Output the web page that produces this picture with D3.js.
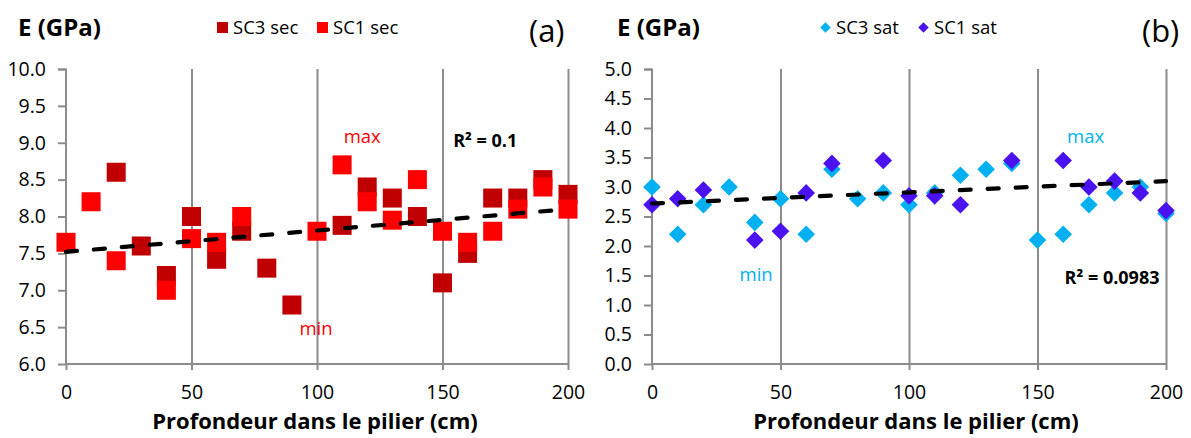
<!DOCTYPE html>
<html><head><meta charset="utf-8">
<script src="https://cdn.jsdelivr.net/npm/d3@7"></script>
<style>body{margin:0;background:#fff} svg{display:block;font-family:"Open Sans",sans-serif}</style>
</head><body><svg id="c" width="1191" height="438"></svg>
<script>
// ---- data ----
const xTicks = [0, 50, 100, 150, 200];
const yTicksA = [6.0, 6.5, 7.0, 7.5, 8.0, 8.5, 9.0, 9.5, 10.0];
const yTicksB = [0.0, 0.5, 1.0, 1.5, 2.0, 2.5, 3.0, 3.5, 4.0, 4.5, 5.0];

const sc3SecX = [20, 30, 40, 50, 60, 70, 80, 90, 110, 120, 130, 140, 150, 160, 170, 180, 190, 200];
const sc3SecE = [8.6, 7.6, 7.2, 8.0, 7.42, 7.8, 7.3, 6.8, 7.88, 8.4, 8.25, 8.0, 7.1, 7.5, 8.25, 8.25, 8.5, 8.3];
const sc1SecX = [0, 10, 20, 40, 50, 60, 70, 100, 110, 120, 130, 140, 150, 160, 170, 180, 190, 200];
const sc1SecE = [7.65, 8.2, 7.4, 7.0, 7.7, 7.65, 8.0, 7.8, 8.7, 8.2, 7.95, 8.5, 7.8, 7.65, 7.8, 8.1, 8.4, 8.1];

const sc3SatX = [0, 10, 20, 30, 40, 50, 60, 70, 80, 90, 100, 110, 120, 130, 140, 150, 160, 170, 180, 190, 200];
const sc3SatE = [3.0, 2.2, 2.7, 3.0, 2.4, 2.8, 2.2, 3.3, 2.8, 2.9, 2.7, 2.9, 3.2, 3.3, 3.4, 2.1, 2.2, 2.7, 2.9, 3.0, 2.55];
const sc1SatX = [0, 10, 20, 40, 50, 60, 70, 90, 100, 110, 120, 140, 160, 170, 180, 190, 200];
const sc1SatE = [2.7, 2.8, 2.95, 2.1, 2.25, 2.9, 3.4, 3.45, 2.85, 2.85, 2.7, 3.45, 3.45, 3.0, 3.1, 2.9, 2.6];

const trendX = [0, 200];
const trendA = [7.52, 8.10];
const trendB = [2.72, 3.10];

const notesA = [
  {t: "max", x: 118, y: 9.0, c: "#FF0000", b: false},
  {t: "min", x: 99.6, y: 6.39, c: "#FF0000", b: false},
  {t: "R² = 0.1", x: 167, y: 8.94, c: "#000", b: true}
];
const notesB = [
  {t: "min", x: 40.5, y: 1.41, c: "#00B0F0", b: false},
  {t: "max", x: 168.7, y: 3.75, c: "#00B0F0", b: false},
  {t: "R² = 0.0983", x: 179, y: 1.36, c: "#000", b: true}
];

// ---- drawing ----
const svg = d3.select("#c");
const AX = "#8c8c8c";
const COL = {sc3sec: "#C00000", sc1sec: "#FF0000", sc3sat: "#00B0F0", sc1sat: "#4A12EE"};

function panel(cfg) {
  const g = svg.append("g");
  const x = d3.scaleLinear().domain([0, 200]).range(cfg.xr);
  const y = d3.scaleLinear().domain(cfg.yd).range([364, 69]);

  // vertical grid lines
  g.append("g").attr("transform", "translate(0,364)")
    .call(d3.axisBottom(x).tickValues(xTicks.slice(1)).tickSize(-(364 - 69)).tickFormat(""))
    .call(a => a.select(".domain").remove())
    .call(a => a.selectAll("line").attr("stroke", AX).attr("stroke-width", 2));

  // y axis
  g.append("g").attr("transform", `translate(${cfg.xr[0]},0)`)
    .call(d3.axisLeft(y).tickValues(cfg.yTicks).tickSize(8).tickPadding(12).tickFormat(d3.format(".1f")))
    .call(a => a.select(".domain").attr("stroke", AX).attr("stroke-width", 2).attr("d", `M-8,69.5H0V364`))
    .call(a => a.selectAll("line").attr("stroke", AX).attr("stroke-width", 2))
    .call(a => a.selectAll("text").attr("font-size", 19.5).attr("fill", "#000").attr("font-family", "Open Sans"));

  // x axis
  g.append("g").attr("transform", "translate(0,364)")
    .call(d3.axisBottom(x).tickValues(xTicks).tickSize(6).tickPadding(15).tickFormat(d3.format("d")))
    .call(a => a.select(".domain").attr("stroke", AX).attr("stroke-width", 2).attr("d", `M${cfg.xr[0]},0H${cfg.xr[1]}`))
    .call(a => a.selectAll("line").attr("stroke", AX).attr("stroke-width", 2))
    .call(a => a.selectAll("text").attr("font-size", 19.5).attr("fill", "#000").attr("font-family", "Open Sans"));

  // series
  cfg.series.forEach(s => {
    const pts = s.xs.map((v, i) => [v, s.ys[i]]);
    if (s.shape === "square") {
      g.append("g").selectAll("rect").data(pts).join("rect")
        .attr("x", d => x(d[0]) - 9.5).attr("y", d => y(d[1]) - 9.5)
        .attr("width", 19).attr("height", 19).attr("fill", s.color);
    } else {
      const sym = d3.symbol().type(d3.symbolSquare).size(155);
      g.append("g").selectAll("path").data(pts).join("path")
        .attr("d", sym).attr("fill", s.color)
        .attr("transform", d => `translate(${x(d[0])},${y(d[1])}) rotate(45)`);
    }
  });

  // trend line
  g.append("path")
    .datum(trendX.map((v, i) => [v, cfg.trend[i]]))
    .attr("d", d3.line().x(d => x(d[0])).y(d => y(d[1])))
    .attr("stroke", "#000").attr("stroke-width", 4.2).attr("fill", "none")
    .attr("stroke-dasharray", "11,17").attr("stroke-linecap", "round");

  // annotations
  cfg.notes.forEach(n => {
    g.append("text").attr("x", x(n.x)).attr("y", y(n.y)).attr("text-anchor", "middle")
      .attr("font-size", n.b ? 18 : 18.5).attr("font-weight", n.b ? 700 : 400)
      .attr("fill", n.c).text(n.t);
  });

  // y title
  g.append("text").attr("x", cfg.yTitleX).attr("y", 36).attr("font-size", 24).attr("font-weight", 700)
    .text("E (GPa)");
  // panel letter
  g.append("text").attr("x", cfg.letterX).attr("y", 42).attr("font-size", 31).text(cfg.letter);
  // x title
  g.append("text").attr("x", cfg.xTitleX).attr("y", 429).attr("text-anchor", "middle")
    .attr("font-size", 22).attr("font-weight", 700).text("Profondeur dans le pilier (cm)");

  // legend
  cfg.legend.forEach(l => {
    if (l.shape === "square") {
      g.append("rect").attr("x", l.x).attr("y", 22).attr("width", 11).attr("height", 11).attr("fill", l.color);
    } else {
      g.append("path").attr("d", d3.symbol().type(d3.symbolSquare).size(55)())
        .attr("transform", `translate(${l.x + 5.5},27.5) rotate(45)`).attr("fill", l.color);
    }
    g.append("text").attr("x", l.x + 16).attr("y", 27.5).attr("dy", "0.35em")
      .attr("font-size", 18.5).text(l.label);
  });
}

panel({
  xr: [66, 568], yd: [6, 10], yTicks: yTicksA, trend: trendA, notes: notesA,
  yTitleX: 18, letter: "(a)", letterX: 529, xTitleX: 315,
  series: [
    {xs: sc3SecX, ys: sc3SecE, color: COL.sc3sec, shape: "square"},
    {xs: sc1SecX, ys: sc1SecE, color: COL.sc1sec, shape: "square"}
  ],
  legend: [
    {x: 217, label: "SC3 sec", color: COL.sc3sec, shape: "square"},
    {x: 317, label: "SC1 sec", color: COL.sc1sec, shape: "square"}
  ]
});
panel({
  xr: [652, 1166], yd: [0, 5], yTicks: yTicksB, trend: trendB, notes: notesB,
  yTitleX: 617, letter: "(b)", letterX: 1142, xTitleX: 916,
  series: [
    {xs: sc3SatX, ys: sc3SatE, color: COL.sc3sat, shape: "diamond"},
    {xs: sc1SatX, ys: sc1SatE, color: COL.sc1sat, shape: "diamond"}
  ],
  legend: [
    {x: 820, label: "SC3 sat", color: COL.sc3sat, shape: "diamond"},
    {x: 918, label: "SC1 sat", color: COL.sc1sat, shape: "diamond"}
  ]
});
</script></body></html>
